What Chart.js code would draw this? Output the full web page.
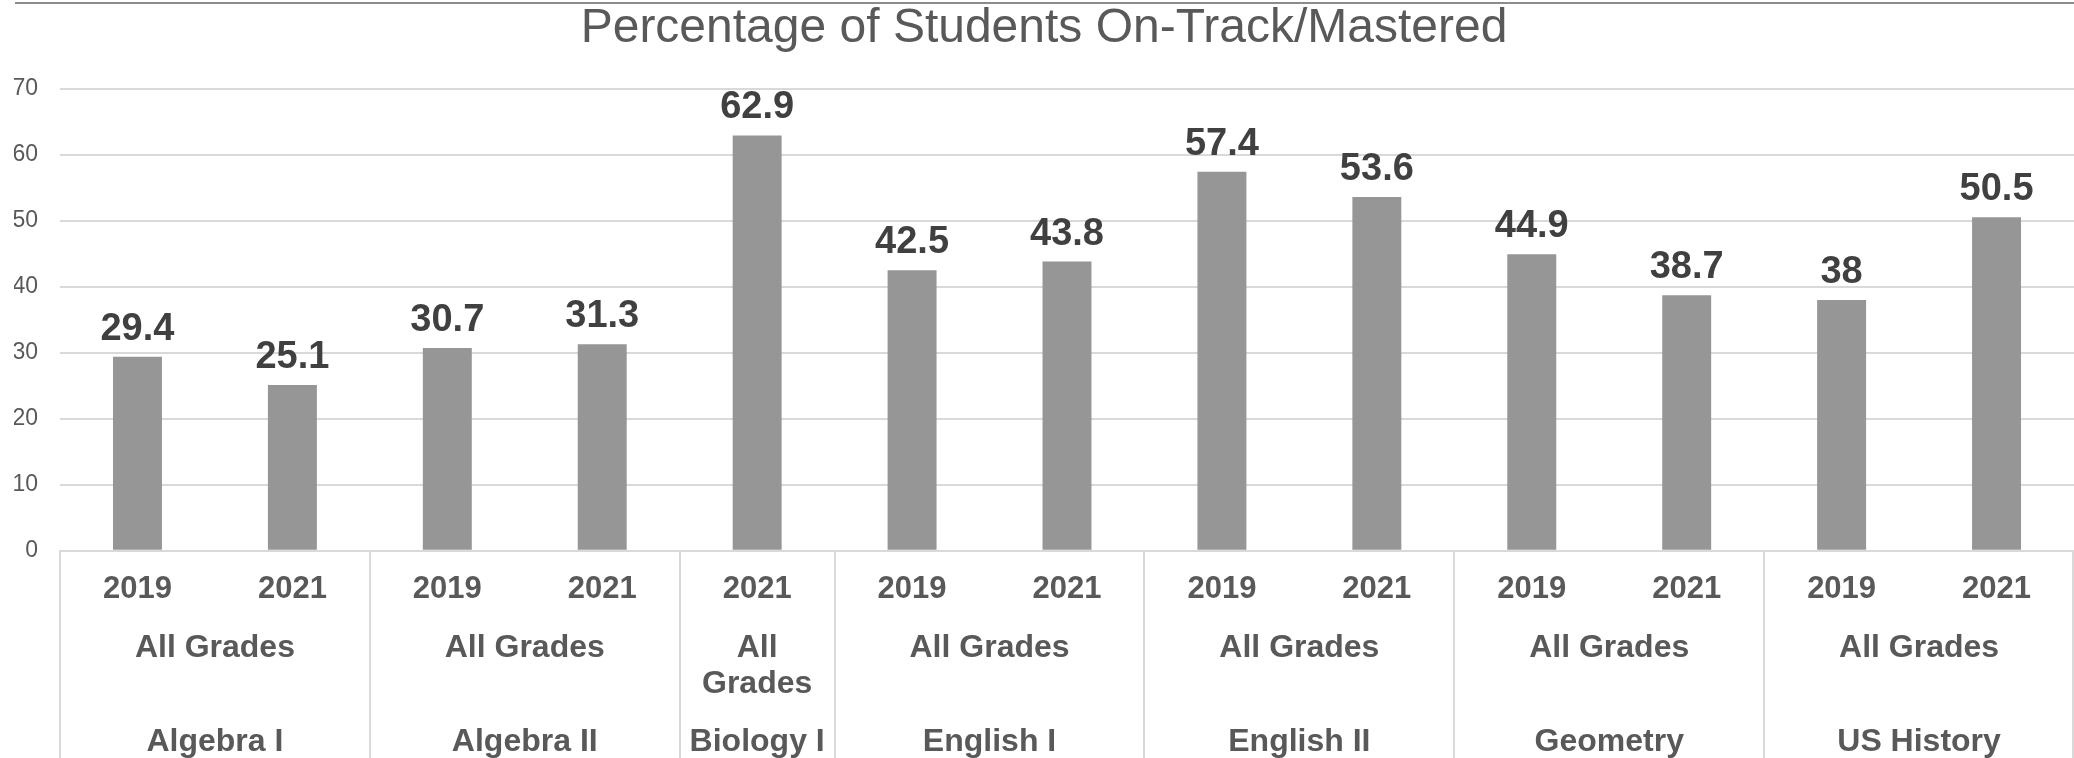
<!DOCTYPE html>
<html>
<head>
<meta charset="utf-8">
<script src="https://cdn.jsdelivr.net/npm/chart.js@4.4.0/dist/chart.umd.min.js"></script>
<style>
  body { margin: 0; background: #fff; }
  #wrap { position: relative; width: 2074px; height: 758px; }
  #topline { position: absolute; left: 15px; right: 0; top: 2px; border-top: 2px solid #8c8c8c; }
</style>
</head>
<body>
<div id="wrap">
  <div id="topline"></div>
  <canvas id="chart"></canvas>
</div>
<script>
// Datos del gráfico
var subjects = ['Algebra I', 'Algebra I', 'Algebra II', 'Algebra II', 'Biology I', 'English I', 'English I',
                'English II', 'English II', 'Geometry', 'Geometry', 'US History', 'US History'];
var grades = ['All Grades', 'All Grades', 'All Grades', 'All Grades', 'All Grades', 'All Grades', 'All Grades',
              'All Grades', 'All Grades', 'All Grades', 'All Grades', 'All Grades', 'All Grades'];
var years = ['2019', '2021', '2019', '2021', '2021', '2019', '2021', '2019', '2021', '2019', '2021', '2019', '2021'];
var values = [29.4, 25.1, 30.7, 31.3, 62.9, 42.5, 43.8, 57.4, 53.6, 44.9, 38.7, 38, 50.5];
var yTicks = [0, 10, 20, 30, 40, 50, 60, 70];

var FONT = 'Arial, "Liberation Sans", Helvetica, sans-serif';

// Etiquetas de valor encima de cada barra
var valueLabels = {
    id: 'valueLabels',
    afterDatasetsDraw: function(chart) {
        var ctx = chart.ctx;
        var meta = chart.getDatasetMeta(0);
        ctx.save();
        ctx.font = 'bold 38px ' + FONT;
        ctx.fillStyle = '#404040';
        ctx.textAlign = 'center';
        ctx.textBaseline = 'alphabetic';
        meta.data.forEach(function(bar, i) {
            ctx.fillText(String(values[i]), bar.x, bar.y - 17);
        });
        ctx.restore();
    }
};

// Eje de categorías en varios niveles (grado + asignatura)
var groupAxis = {
    id: 'groupAxis',
    afterDraw: function(chart) {
        var ctx = chart.ctx;
        var x = chart.scales.x;
        var area = chart.chartArea;
        var slot = x.getPixelForValue(1) - x.getPixelForValue(0);
        var gradeY = area.bottom + 97;
        var subjY = area.bottom + 191;

        ctx.save();
        ctx.strokeStyle = '#d9d9d9';
        ctx.lineWidth = 2;
        ctx.fillStyle = '#595959';
        ctx.font = 'bold 32px ' + FONT;
        ctx.textAlign = 'center';
        ctx.textBaseline = 'middle';

        var start = 0;
        for (var i = 1; i <= subjects.length; i++) {
            if (i === subjects.length || subjects[i] !== subjects[start]) {
                var left = x.getPixelForValue(start) - slot / 2;
                var right = x.getPixelForValue(i - 1) + slot / 2;
                var mid = (left + right) / 2;

                ctx.beginPath();
                ctx.moveTo(Math.round(left), area.bottom);
                ctx.lineTo(Math.round(left), chart.height);
                ctx.stroke();
                if (i === subjects.length) {
                    ctx.beginPath();
                    ctx.moveTo(Math.round(right) - 1, area.bottom);
                    ctx.lineTo(Math.round(right) - 1, chart.height);
                    ctx.stroke();
                }

                // grado (se parte en líneas si no cabe)
                var g = grades[start];
                if (ctx.measureText(g).width > right - left - 12) {
                    var words = g.split(' ');
                    words.forEach(function(w, k) {
                        ctx.fillText(w, mid, gradeY + k * 36);
                    });
                } else {
                    ctx.fillText(g, mid, gradeY);
                }
                ctx.fillText(subjects[start], mid, subjY);
                start = i;
            }
        }
        ctx.restore();
    }
};

var ctx1 = document.getElementById('chart').getContext('2d');
var chart = new Chart(ctx1, {
    type: 'bar',
    data: {
        labels: years,
        datasets: [{
            label: 'On-Track/Mastered',
            data: values,
            backgroundColor: '#969696',
            categoryPercentage: 1,
            barPercentage: 0.316
        }]
    },
    options: {
        responsive: true,
        maintainAspectRatio: false,
        animation: false,
        layout: { padding: { left: 14, right: 0, top: 0, bottom: 130 } },
        plugins: {
            legend: { display: false },
            tooltip: { enabled: false },
            title: {
                display: true,
                text: 'Percentage of Students On-Track/Mastered',
                color: '#595959',
                font: { family: FONT, size: 48, weight: 'normal' },
                padding: { top: 0, bottom: 31 }
            }
        },
        scales: {
            x: {
                grid: { display: false, drawTicks: false },
                border: { display: true, color: '#d9d9d9', width: 2 },
                ticks: {
                    color: '#595959',
                    font: { family: FONT, size: 31, weight: 'bold' },
                    padding: 20,
                    maxRotation: 0,
                    autoSkip: false
                }
            },
            y: {
                min: 0,
                max: 70,
                afterBuildTicks: function(axis) {
                    axis.ticks = yTicks.map(function(v) { return { value: v }; });
                },
                afterFit: function(axis) {
                    axis.width = 46;
                },
                grid: { color: '#d9d9d9', lineWidth: 2, drawTicks: false },
                border: { display: false },
                ticks: {
                    color: '#595959',
                    font: { family: FONT, size: 23 },
                    padding: 22
                }
            }
        }
    },
    plugins: [valueLabels, groupAxis]
});
</script>
</body>
</html>
